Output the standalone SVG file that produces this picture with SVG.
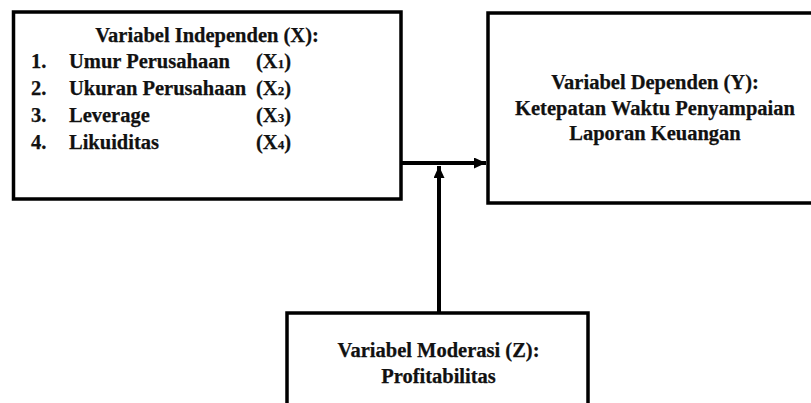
<svg xmlns="http://www.w3.org/2000/svg" width="811" height="403" viewBox="0 0 811 403">
<style>
.box{fill:#fff;stroke:#000;stroke-width:3.5}
text{font-family:'Liberation Serif','Times New Roman',serif;font-weight:700;font-size:20.5px;fill:#111;stroke:#111;stroke-width:0.25px}
.c{text-anchor:middle}
.s{font-size:13px}
.ln{stroke:#000;stroke-width:4;fill:none}
</style>
<defs>
<marker id="ah" markerWidth="12" markerHeight="11" refX="12" refY="5.5" orient="auto" markerUnits="userSpaceOnUse">
<path d="M0,0 L12,5.5 L0,11 Z" fill="#000"/>
</marker>
</defs>
<rect width="811" height="403" fill="#fff"/>
<g id="connectors">
<line class="ln" x1="401" y1="163" x2="486" y2="163" marker-end="url(#ah)"/>
<line class="ln" x1="439" y1="313" x2="439" y2="166" marker-end="url(#ah)"/>
</g>
<g id="node-x">
<rect class="box" x="13.5" y="12" width="387.5" height="187"/>
<text class="c" x="207" y="42">Variabel Independen (X):</text>
<text x="31" y="68">1.</text><text x="69" y="68">Umur Perusahaan</text><text x="256" y="68">(X<tspan class="s">1</tspan>)</text>
<text x="31" y="95">2.</text><text x="69" y="95">Ukuran Perusahaan</text><text x="256" y="95">(X<tspan class="s">2</tspan>)</text>
<text x="31" y="122">3.</text><text x="69" y="122">Leverage</text><text x="256" y="122">(X<tspan class="s">3</tspan>)</text>
<text x="31" y="149">4.</text><text x="69" y="149">Likuiditas</text><text x="256" y="149">(X<tspan class="s">4</tspan>)</text>
</g>
<g id="node-y">
<rect class="box" x="488" y="13" width="340" height="190"/>
<text class="c" x="655" y="89">Variabel Dependen (Y):</text>
<text class="c" x="655" y="115">Ketepatan Waktu Penyampaian</text>
<text class="c" x="655" y="140">Laporan Keuangan</text>
</g>
<g id="node-z">
<rect class="box" x="287" y="313" width="301" height="110"/>
<text class="c" x="438.5" y="357">Variabel Moderasi (Z):</text>
<text class="c" x="438.5" y="383">Profitabilitas</text>
</g>
</svg>
